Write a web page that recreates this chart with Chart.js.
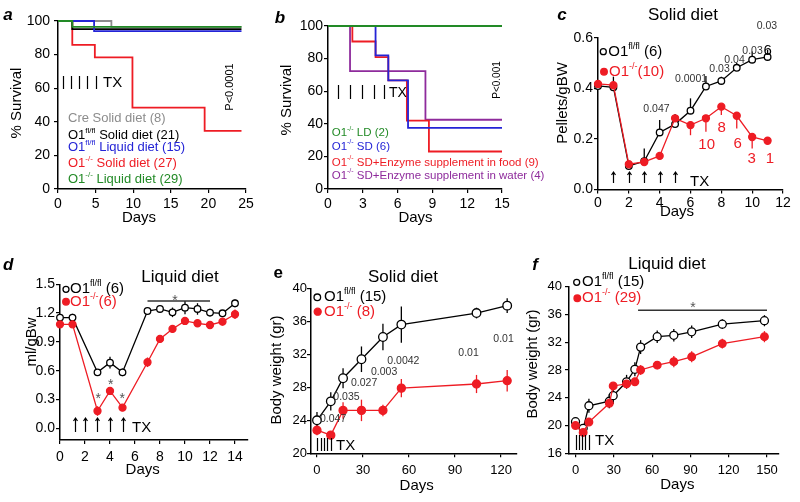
<!DOCTYPE html>
<html>
<head>
<meta charset="utf-8">
<script src="https://cdn.jsdelivr.net/npm/chart.js@4.4.1/dist/chart.umd.min.js"></script>
<style>
  html, body { margin: 0; padding: 0; background: #fff; }
  #fig { position: relative; width: 800px; height: 502px; overflow: hidden; }
  #fig canvas { position: absolute; }
</style>
</head>
<body>
<div id="fig"></div>
<script>
const FONT = '"Liberation Sans", Arial, sans-serif';
const RED = '#ee1c24', BLUE = '#2424d6', GREEN = '#228a26', GRAY = '#8c8c8c', PURPLE = '#8e2b9c';

// a - survival, solid vs liquid diet
const aXTicks = [0, 5, 10, 15, 20, 25];
const aYTicks = [0, 20, 40, 60, 80, 100];
const aCreDays = [0, 7.1, 24.4], aCreSurv = [100, 96.5, 96.5];
const aFlSolidDays = [0, 1.9, 24.4], aFlSolidSurv = [100, 95.2, 95.2];
const aFlLiquidDays = [0, 4.8, 24.4], aFlLiquidSurv = [100, 94, 94];
const aKoSolidDays = [0, 1.9, 4.9, 9.9, 19.5, 24.4], aKoSolidSurv = [100, 85.8, 78.3, 48.4, 34.6, 34.6];
const aKoLiquidDays = [0, 1.9, 24.4], aKoLiquidSurv = [100, 96.5, 96.5];
const aTxDays = [0.66, 1.73, 2.79, 3.86, 5.05];

// b - survival with enzyme supplement
const bXTicks = [0, 3, 6, 9, 12, 15];
const bYTicks = [0, 20, 40, 60, 80, 100];
const bLdDays = [0, 15], bLdSurv = [100, 100];
const bSdDays = [0, 4.1, 5.2, 6.9, 15], bSdSurv = [100, 82, 66.7, 37.5, 37.5];
const bFoodDays = [0, 2.1, 4.1, 5.2, 6.8, 8.7, 15], bFoodSurv = [100, 90.5, 80.9, 66.7, 42, 23, 23];
const bWaterDays = [0, 1.9, 8.4, 15], bWaterSurv = [100, 72.3, 42.5, 42.5];
const bTxDays = [0.84, 1.92, 2.96, 3.97, 4.85];

// c - solid diet intake
const cXTicks = [0, 2, 4, 6, 8, 10, 12];
const cYTicks = [0, 0.2, 0.4, 0.6];
const cDays = [0, 1, 2, 3, 4, 5, 6, 7, 8, 9, 10, 11];
const cFl = [0.41, 0.405, 0.093, 0.112, 0.226, 0.259, 0.312, 0.408, 0.43, 0.482, 0.514, 0.525];
const cFlErr = [0, 0.042, 0, 0.05, 0.049, 0.04, 0.049, 0.042, 0.017, 0.019, 0.033, 0.029];
const cKo = [0.418, 0.413, 0.1, 0.109, 0.133, 0.282, 0.255, 0.282, 0.328, 0.292, 0.208, 0.193];
const cKoErr = [0, 0, 0, 0, 0, 0, 0.04, 0.053, 0.033, 0.05, 0.046, 0];
const cTxDays = [1, 2, 3, 4, 5];

// d - liquid diet intake
const dXTicks = [0, 2, 4, 6, 8, 10, 12, 14];
const dYTicks = [0, 0.3, 0.6, 0.9, 1.2, 1.5];
const dDays = [0, 1, 3, 4, 5, 7, 8, 9, 10, 11, 12, 13, 14];
const dFl = [1.153, 1.153, 0.583, 0.684, 0.583, 1.222, 1.243, 1.208, 1.257, 1.243, 1.205, 1.198, 1.302];
const dFlErr = [0.03, 0.04, 0.03, 0.06, 0.04, 0.03, 0.03, 0.05, 0.07, 0.06, 0.04, 0.03, 0.04];
const dKo = [1.083, 1.083, 0.18, 0.389, 0.215, 0.688, 0.931, 1.035, 1.118, 1.094, 1.076, 1.111, 1.188];
const dKoErr = [0.02, 0.02, 0.05, 0.03, 0.03, 0.05, 0.04, 0.04, 0.03, 0.03, 0.04, 0.04, 0.05];
const dTxDays = [1.2, 2.0, 2.94, 4.0, 5.0];

// e - body weight, solid diet
const eXTicks = [0, 30, 60, 90, 120];
const eYTicks = [20, 24, 28, 32, 36, 40];
const eDays = [0, 9, 17, 29, 43, 55, 104, 124];
const eFl = [24.0, 26.3, 29.1, 31.4, 34.1, 35.6, 37.0, 37.9];
const eFlErr = [1.0, 1.1, 1.2, 1.55, 1.6, 2.2, 0.65, 0.9];
const eKo = [22.8, 22.2, 25.2, 25.2, 25.2, 27.9, 28.4, 28.8];
const eKoErr = [0.6, 0.5, 1.0, 1.3, 0.7, 1.1, 1.1, 1.3];
const eTxDays = [0, 2.3, 4.6, 6.8, 9.1];

// f - body weight, liquid diet
const fXTicks = [0, 30, 60, 90, 120, 150];
const fYTicks = [16, 20, 24, 28, 32, 36, 40];
const fDays = [0, 6, 10.5, 26.5, 29.5, 40, 46.5, 51, 64, 77, 91, 115, 148];
const fFl = [20.55, 19.6, 22.85, 23.5, 24.3, 26.3, 28.1, 31.3, 32.8, 33.0, 33.5, 34.6, 35.1];
const fFlErr = [0.5, 0.4, 1.0, 1.0, 1.2, 1.0, 1.0, 1.0, 0.9, 0.9, 0.9, 0.7, 0.8];
const fKo = [20.0, 19.0, 20.5, 23.2, 25.7, 26.0, 26.3, 28.0, 28.7, 29.2, 29.9, 31.8, 32.8];
const fKoErr = [0.4, 0.4, 0.4, 0.6, 0.5, 0.5, 0.6, 0.7, 0.6, 0.8, 0.8, 0.7, 0.8];
const fTxDays = [0, 2.6, 5.2, 7.8, 10.4];

const pts = (xs, ys) => xs.map((x, i) => ({ x: x, y: ys[i] }));

// text with ^{...} superscripts
function richText(ctx, s, x, y, o) {
  const size = o.size || 13;
  const base = (o.italic ? 'italic ' : '') + (o.bold ? 'bold ' : '');
  const segs = s.split(/(\^\{[^}]*\})/).filter(p => p.length)
    .map(p => p.startsWith('^{') ? { t: p.slice(2, -1), sup: true } : { t: p, sup: false });
  const fontFor = sg => base + (sg.sup ? Math.round(size * 0.62) : size) + 'px ' + FONT;
  let w = 0;
  segs.forEach(sg => { ctx.font = fontFor(sg); sg.w = ctx.measureText(sg.t).width; w += sg.w; });
  ctx.save();
  ctx.translate(x, y);
  if (o.rot) ctx.rotate(o.rot * Math.PI / 180);
  let cx = o.align === 'center' ? -w / 2 : 0;
  ctx.fillStyle = o.color || '#000';
  ctx.textBaseline = 'middle';
  ctx.textAlign = 'left';
  segs.forEach(sg => {
    ctx.font = fontFor(sg);
    ctx.fillText(sg.t, cx, sg.sup ? -size * 0.36 : 0);
    cx += sg.w;
  });
  ctx.restore();
}

const decor = {
  id: 'decor',
  beforeDatasetsDraw(chart) {
    const { ctx, scales: { x, y } } = chart;
    chart.data.datasets.forEach(ds => {
      if (!ds.err) return;
      ctx.save();
      ctx.strokeStyle = ds.borderColor;
      ctx.lineWidth = 1.3;
      ds.data.forEach((p, i) => {
        const e = ds.err[i];
        if (!e) return;
        const hi = ds.errDir === 'down' ? p.y : p.y + e;
        const lo = ds.errDir === 'up' ? p.y : p.y - e;
        const px = x.getPixelForValue(p.x);
        ctx.beginPath();
        ctx.moveTo(px, y.getPixelForValue(hi));
        ctx.lineTo(px, y.getPixelForValue(lo));
        ctx.stroke();
      });
      ctx.restore();
    });
  },
  afterDraw(chart, args, o) {
    const { ctx, scales: { x, y } } = chart;
    const ox = o.origin[0], oy = o.origin[1];
    ctx.save();
    ctx.strokeStyle = '#000';
    ctx.lineWidth = 1.2;
    if (o.tx) {
      o.tx.days.forEach(d => {
        const px = Math.round(x.getPixelForValue(d)) + 0.5;
        const t = o.tx.top - oy, b = o.tx.bottom - oy;
        ctx.beginPath();
        ctx.moveTo(px, b);
        ctx.lineTo(px, t);
        if (o.tx.arrow) {
          ctx.moveTo(px - 2, t + 3);
          ctx.lineTo(px, t);
          ctx.lineTo(px + 2, t + 3);
        }
        ctx.stroke();
      });
    }
    (o.bars || []).forEach(b => {
      ctx.strokeStyle = '#333';
      ctx.lineWidth = 1.5;
      const py = y.getPixelForValue(b.y);
      ctx.beginPath();
      ctx.moveTo(x.getPixelForValue(b.from), py);
      ctx.lineTo(x.getPixelForValue(b.to), py);
      ctx.stroke();
    });
    (o.dots || []).forEach(d => {
      ctx.beginPath();
      ctx.arc(d.x - ox, d.y - oy, d.r, 0, Math.PI * 2);
      ctx.fillStyle = d.open ? '#fff' : d.color;
      ctx.fill();
      ctx.strokeStyle = d.color;
      ctx.lineWidth = 1.3;
      ctx.stroke();
    });
    ctx.restore();
    (o.texts || []).forEach(t => richText(ctx, t.s, t.x - ox, t.y - oy, t));
  }
};
Chart.register(decor);

function panel(box, area, xs, ys, datasets, decorOpts) {
  const L = box[0], T = box[1], W = box[2], H = box[3];
  const cv = document.createElement('canvas');
  cv.width = W; cv.height = H;
  cv.style.left = L + 'px'; cv.style.top = T + 'px';
  cv.style.width = W + 'px'; cv.style.height = H + 'px';
  document.getElementById('fig').appendChild(cv);
  const axis = (s, fit) => ({
    type: 'linear', min: s.min, max: s.max,
    afterFit: fit,
    afterBuildTicks: sc => { sc.ticks = s.ticks.map(v => ({ value: v })); },
    ticks: {
      color: '#000', font: { family: FONT, size: s.size }, padding: s.pad,
      autoSkip: false, maxRotation: 0, callback: s.fmt || (v => String(v))
    },
    grid: { drawOnChartArea: false, drawTicks: true, tickLength: 4, color: '#000', lineWidth: 1.2 },
    border: { color: '#000', width: 1.5 }
  });
  return new Chart(cv, {
    type: 'line',
    data: { datasets: datasets },
    options: {
      responsive: false, animation: false, events: [],
      layout: { autoPadding: false, padding: { left: 0, top: area[1] - T, right: L + W - area[2], bottom: 0 } },
      plugins: { legend: { display: false }, tooltip: { enabled: false }, decor: Object.assign({ origin: [L, T] }, decorOpts) },
      scales: {
        x: axis(xs, sc => { sc.height = T + H - area[3]; }),
        y: axis(ys, sc => { sc.width = area[0] - L; })
      }
    }
  });
}

const km = (label, xs, ys, color) => ({
  label: label, data: pts(xs, ys), borderColor: color, borderWidth: 1.8,
  pointRadius: 0, stepped: 'before', fill: false, clip: false
});
const series = (label, xs, ys, err, dir, color, open, r) => ({
  label: label, data: pts(xs, ys), err: err, errDir: dir,
  borderColor: color, borderWidth: 1.3, pointRadius: r, pointBorderWidth: 1.3,
  pointBackgroundColor: open ? '#fff' : color, pointBorderColor: color, fill: false, clip: false
});
const fix1 = v => v.toFixed(1);

// panel a
panel([0, 0, 270, 240], [58, 21, 246, 189],
  { min: 0, max: 25, ticks: aXTicks, size: 14, pad: 3 },
  { min: 0, max: 100, ticks: aYTicks, size: 14, pad: 4 },
  [
    km('O1-/- Liquid diet', aKoLiquidDays, aKoLiquidSurv, GREEN),
    km('O1fl/fl Liquid diet', aFlLiquidDays, aFlLiquidSurv, BLUE),
    km('O1fl/fl Solid diet', aFlSolidDays, aFlSolidSurv, '#000'),
    km('O1-/- Solid diet', aKoSolidDays, aKoSolidSurv, RED),
    km('Cre Solid diet', aCreDays, aCreSurv, GRAY)
  ],
  {
    tx: { days: aTxDays, top: 76, bottom: 89 },
    texts: [
      { s: 'a', x: 8, y: 15, size: 17, bold: true, italic: true, align: 'center' },
      { s: '% Survival', x: 16.7, y: 103, size: 15, rot: -90, align: 'center' },
      { s: 'Days', x: 139, y: 218, size: 15, align: 'center' },
      { s: 'TX', x: 103, y: 83, size: 15 },
      { s: 'Cre Solid diet (8)', x: 68, y: 118.3, size: 13, color: GRAY },
      { s: 'O1^{fl/fl} Solid diet (21)', x: 68, y: 135, size: 13, color: '#000' },
      { s: 'O1^{fl/fl} Liquid diet (15)', x: 68, y: 147.7, size: 13, color: BLUE },
      { s: 'O1^{-/-} Solid diet (27)', x: 68, y: 163.3, size: 13, color: RED },
      { s: 'O1^{-/-} Liquid diet (29)', x: 68, y: 179.3, size: 13, color: GREEN },
      { s: 'P<0.0001', x: 230, y: 87, size: 11, rot: -90, align: 'center' }
    ]
  });

// panel b
panel([270, 0, 275, 240], [328, 26, 502, 189],
  { min: 0, max: 15, ticks: bXTicks, size: 14, pad: 3 },
  { min: 0, max: 100, ticks: bYTicks, size: 14, pad: 1 },
  [
    km('O1-/- LD', bLdDays, bLdSurv, GREEN),
    km('O1-/- SD', bSdDays, bSdSurv, BLUE),
    km('O1-/- SD+Enzyme in food', bFoodDays, bFoodSurv, RED),
    km('O1-/- SD+Enzyme in water', bWaterDays, bWaterSurv, PURPLE)
  ],
  {
    tx: { days: bTxDays, top: 85, bottom: 99 },
    texts: [
      { s: 'b', x: 280, y: 18, size: 17, bold: true, italic: true, align: 'center' },
      { s: '% Survival', x: 286.7, y: 100, size: 15, rot: -90, align: 'center' },
      { s: 'Days', x: 415.5, y: 218, size: 15, align: 'center' },
      { s: 'TX', x: 389, y: 92.7, size: 14 },
      { s: 'O1^{-/-} LD (2)', x: 331.7, y: 133.3, size: 11.5, color: GREEN },
      { s: 'O1^{-/-} SD (6)', x: 331.7, y: 146.7, size: 11.5, color: BLUE },
      { s: 'O1^{-/-} SD+Enzyme supplement in food (9)', x: 331.7, y: 162.7, size: 11.5, color: RED },
      { s: 'O1^{-/-} SD+Enzyme supplement in water (4)', x: 331.7, y: 175.7, size: 11.5, color: PURPLE },
      { s: 'P<0.001', x: 497, y: 80, size: 10, rot: -90, align: 'center' }
    ]
  });

// panel c
panel([540, 0, 260, 240], [598, 38, 783, 189.5],
  { min: 0, max: 12, ticks: cXTicks, size: 14, pad: 1 },
  { min: 0, max: 0.6, ticks: cYTicks, size: 14, pad: 1, fmt: fix1 },
  [
    series('O1-/-', cDays, cKo, cKoErr, 'down', RED, false, 3.5),
    series('O1fl/fl', cDays, cFl, cFlErr, 'up', '#000', true, 3.3)
  ],
  {
    tx: { days: cTxDays, top: 172, bottom: 183, arrow: true },
    dots: [
      { x: 603.3, y: 51.7, r: 3, open: true, color: '#000' },
      { x: 604, y: 71.7, r: 3.3, color: RED }
    ],
    texts: [
      { s: 'c', x: 562, y: 15, size: 17, bold: true, italic: true, align: 'center' },
      { s: 'Solid diet', x: 683, y: 15, size: 17, align: 'center' },
      { s: 'Pellets/gBW', x: 563, y: 103, size: 15, rot: -90, align: 'center' },
      { s: 'Days', x: 677, y: 212, size: 15, align: 'center' },
      { s: 'TX', x: 690, y: 182, size: 15 },
      { s: 'O1^{fl/fl} (6)', x: 608.3, y: 51.7, size: 15 },
      { s: 'O1^{-/-}(10)', x: 609, y: 71.7, size: 15, color: RED },
      { s: '0.047', x: 643.3, y: 109, size: 10.5, color: '#333' },
      { s: '0.0001', x: 675, y: 79.3, size: 10.5, color: '#333' },
      { s: '0.03', x: 709.3, y: 69.3, size: 10.5, color: '#333' },
      { s: '0.04', x: 724.3, y: 60, size: 10.5, color: '#333' },
      { s: '0.03', x: 742.3, y: 50.7, size: 10.5, color: '#333' },
      { s: '6', x: 767.7, y: 50.7, size: 15, align: 'center' },
      { s: '0.03', x: 756.7, y: 26, size: 10.5, color: '#333' },
      { s: '10', x: 706.7, y: 145, size: 15, color: RED, align: 'center' },
      { s: '8', x: 721.7, y: 128.3, size: 15, color: RED, align: 'center' },
      { s: '6', x: 737.7, y: 144, size: 15, color: RED, align: 'center' },
      { s: '3', x: 751.7, y: 159.3, size: 15, color: RED, align: 'center' },
      { s: '1', x: 770, y: 159.3, size: 15, color: RED, align: 'center' }
    ]
  });

// panel d
panel([0, 240, 270, 262], [60, 284.3, 248, 440],
  { min: 0, max: 15.04, ticks: dXTicks, size: 14, pad: 5 },
  { min: -0.122, max: 1.5, ticks: dYTicks, size: 14, pad: 1, fmt: fix1 },
  [
    series('O1-/-', dDays, dKo, dKoErr, 'both', RED, false, 3.5),
    series('O1fl/fl', dDays, dFl, dFlErr, 'both', '#000', true, 3.3)
  ],
  {
    tx: { days: dTxDays, top: 418, bottom: 432, arrow: true },
    bars: [{ from: 7, to: 12, y: 1.326 }],
    dots: [
      { x: 66, y: 289.3, r: 3, open: true, color: '#000' },
      { x: 66, y: 301.7, r: 3.3, color: RED }
    ],
    texts: [
      { s: 'd', x: 8.3, y: 265, size: 17, bold: true, italic: true, align: 'center' },
      { s: 'Liquid diet', x: 180, y: 277, size: 17, align: 'center' },
      { s: 'ml/gBw', x: 32, y: 342, size: 15, rot: -90, align: 'center' },
      { s: 'Days', x: 142.7, y: 470, size: 15, align: 'center' },
      { s: 'TX', x: 132, y: 428.3, size: 15 },
      { s: 'O1^{fl/fl} (6)', x: 70, y: 289.3, size: 15 },
      { s: 'O1^{-/-}(6)', x: 70, y: 301.7, size: 15, color: RED },
      { s: '*', x: 98.3, y: 399, size: 14, color: '#555', align: 'center' },
      { s: '*', x: 110.7, y: 384.7, size: 14, color: '#555', align: 'center' },
      { s: '*', x: 122.3, y: 399, size: 14, color: '#555', align: 'center' },
      { s: '*', x: 175, y: 301, size: 14, color: '#555', align: 'center' }
    ]
  });

// panel e
panel([270, 240, 250, 262], [311, 288.3, 517, 453.3],
  { min: -3.9, max: 130.4, ticks: eXTicks, size: 13, pad: 5 },
  { min: 20, max: 40, ticks: eYTicks, size: 13, pad: 0 },
  [
    series('O1-/-', eDays, eKo, eKoErr, 'both', RED, false, 4),
    series('O1fl/fl', eDays, eFl, eFlErr, 'both', '#000', true, 4.3)
  ],
  {
    tx: { days: eTxDays, top: 438, bottom: 451 },
    dots: [
      { x: 317.3, y: 297.3, r: 3.3, open: true, color: '#000' },
      { x: 317.7, y: 311.7, r: 3.5, color: RED }
    ],
    texts: [
      { s: 'e', x: 278.3, y: 273.3, size: 17, bold: true, align: 'center' },
      { s: 'Solid diet', x: 403, y: 277, size: 17, align: 'center' },
      { s: 'Body weight (gr)', x: 277, y: 370, size: 15, rot: -90, align: 'center' },
      { s: 'Days', x: 416.7, y: 486, size: 15, align: 'center' },
      { s: 'TX', x: 336, y: 446, size: 15 },
      { s: 'O1^{fl/fl} (15)', x: 324, y: 297.3, size: 15 },
      { s: 'O1^{-/-} (8)', x: 324, y: 311.7, size: 15, color: RED },
      { s: '0.047', x: 320, y: 419, size: 10.5, color: '#333' },
      { s: '0.035', x: 333.3, y: 396.7, size: 10.5, color: '#333' },
      { s: '0.027', x: 351, y: 382.7, size: 10.5, color: '#333' },
      { s: '0.003', x: 371, y: 371.7, size: 10.5, color: '#333' },
      { s: '0.0042', x: 387.3, y: 360.7, size: 10.5, color: '#333' },
      { s: '0.01', x: 458.3, y: 353.3, size: 10.5, color: '#333' },
      { s: '0.01', x: 493.3, y: 339, size: 10.5, color: '#333' }
    ]
  });

// panel f
panel([520, 240, 280, 262], [569, 286.7, 779, 453.3],
  { min: -5.1, max: 159.4, ticks: fXTicks, size: 13, pad: 5 },
  { min: 16, max: 40, ticks: fYTicks, size: 13, pad: 3 },
  [
    series('O1-/-', fDays, fKo, fKoErr, 'both', RED, false, 3.8),
    series('O1fl/fl', fDays, fFl, fFlErr, 'both', '#000', true, 4)
  ],
  {
    tx: { days: fTxDays, top: 435, bottom: 450 },
    bars: [{ from: 49, to: 150, y: 36.6 }],
    dots: [
      { x: 576.7, y: 282.3, r: 3, open: true, color: '#000' },
      { x: 577.3, y: 298.3, r: 3.3, color: RED }
    ],
    texts: [
      { s: 'f', x: 535, y: 265, size: 17, bold: true, italic: true, align: 'center' },
      { s: 'Liquid diet', x: 667, y: 264, size: 17, align: 'center' },
      { s: 'Body weight (gr)', x: 533, y: 364, size: 15, rot: -90, align: 'center' },
      { s: 'Days', x: 677.3, y: 485, size: 15, align: 'center' },
      { s: 'TX', x: 595, y: 441, size: 15 },
      { s: 'O1^{fl/fl} (15)', x: 582, y: 282.3, size: 15 },
      { s: 'O1^{-/-} (29)', x: 582, y: 298.3, size: 15, color: RED },
      { s: '*', x: 693, y: 308, size: 14, color: '#555', align: 'center' }
    ]
  });
</script>
</body>
</html>
